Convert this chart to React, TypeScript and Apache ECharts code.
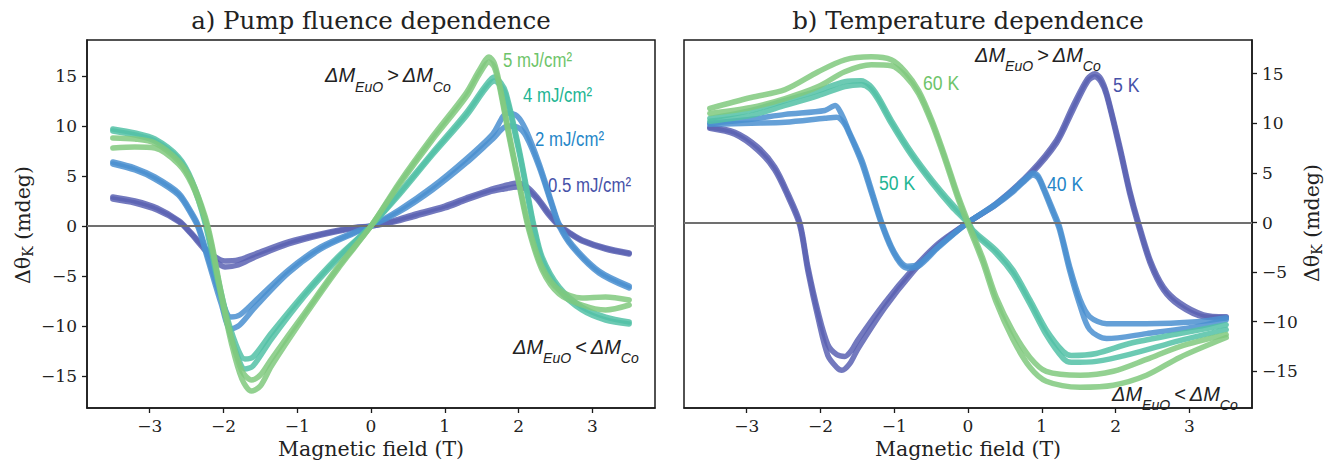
import React, { useEffect, useRef } from "react";
import * as echarts from "echarts";

type P = [number, number];

// ---------- Panel a) pump fluence dependence (two sweep branches each) ----------
const fluenceNames = ["0.5 mJ/cm²", "2 mJ/cm²", "4 mJ/cm²", "5 mJ/cm²"];

const f05A: P[] = [[-3.5,2.9],[-3.2,2.5],[-2.9,1.8],[-2.6,0.5],[-2.45,-0.6],[-2.3,-1.8],[-2.15,-2.9],[-1.98,-3.5],[-1.8,-3.4],[-1.57,-2.8],[-1.12,-1.6],[-0.68,-0.8],[-0.22,-0.15],[0,0],[0.3,0.5],[0.61,1.2],[1.0,2.0],[1.29,2.8],[1.6,3.6],[1.8,4.0],[1.98,4.3],[2.1,4.0],[2.25,2.9],[2.4,1.4],[2.55,0.1],[2.7,-0.7],[2.86,-1.4],[3.18,-2.2],[3.5,-2.7]];
const f05B: P[] = [[-3.5,2.7],[-3.2,2.3],[-2.9,1.6],[-2.6,0.4],[-2.45,-0.7],[-2.3,-2.0],[-2.15,-3.2],[-1.98,-4.1],[-1.8,-3.9],[-1.57,-3.1],[-1.12,-1.8],[-0.68,-0.9],[-0.22,-0.2],[0,0],[0.3,0.4],[0.61,1.0],[1.0,1.8],[1.29,2.6],[1.6,3.4],[1.8,3.7],[1.98,3.9],[2.1,3.7],[2.25,2.7],[2.4,1.2],[2.55,0],[2.7,-0.8],[2.86,-1.5],[3.18,-2.3],[3.5,-2.8]];

const f2A: P[] = [[-3.5,6.4],[-3.2,5.8],[-2.93,4.9],[-2.61,3.3],[-2.43,1.3],[-2.34,0],[-2.21,-3.1],[-2.03,-7.2],[-1.9,-9.1],[-1.78,-8.9],[-1.57,-7.5],[-1.12,-4.4],[-0.68,-2.1],[-0.22,-0.6],[0,0],[0.38,1.4],[0.83,3.6],[1.29,6.3],[1.65,8.7],[1.85,10.0],[1.98,9.9],[2.1,9.0],[2.28,5.9],[2.46,1.9],[2.55,0],[2.73,-2.1],[3.09,-4.7],[3.5,-6.2]];
const f2B: P[] = [[-3.5,6.2],[-3.2,5.6],[-2.93,4.7],[-2.61,3.1],[-2.43,1.1],[-2.34,-0.2],[-2.21,-3.4],[-2.03,-7.8],[-1.9,-10.3],[-1.78,-9.9],[-1.57,-8.1],[-1.12,-4.7],[-0.68,-2.3],[-0.22,-0.7],[0,0],[0.38,1.6],[0.83,3.9],[1.29,6.7],[1.65,9.2],[1.85,11.3],[1.98,11.0],[2.1,9.6],[2.28,6.2],[2.46,2.1],[2.55,0.2],[2.73,-1.9],[3.09,-4.5],[3.5,-6.0]];

const f4A: P[] = [[-3.5,9.7],[-3.2,9.3],[-2.93,8.7],[-2.61,6.9],[-2.43,4.6],[-2.25,0.6],[-2.07,-5.4],[-1.94,-9.4],[-1.8,-12.4],[-1.71,-13.3],[-1.6,-13.1],[-1.35,-10.7],[-0.9,-6.7],[-0.45,-3.1],[0,0],[0.38,3.3],[0.83,7.3],[1.29,11.3],[1.55,14.0],[1.67,14.9],[1.76,14.3],[1.83,13.3],[2.01,7.6],[2.14,2.6],[2.21,0],[2.32,-3.1],[2.55,-6.1],[2.86,-8.1],[3.18,-9.1],[3.5,-9.6]];
const f4B: P[] = [[-3.5,9.5],[-3.2,9.1],[-2.93,8.5],[-2.61,6.7],[-2.43,4.4],[-2.25,0.3],[-2.07,-5.8],[-1.94,-10.0],[-1.8,-13.2],[-1.71,-14.3],[-1.6,-14.0],[-1.35,-11.3],[-0.9,-7.0],[-0.45,-3.3],[0,0],[0.38,3.1],[0.83,7.1],[1.29,11.0],[1.55,13.7],[1.67,14.5],[1.76,14.0],[1.83,13.0],[2.01,7.3],[2.14,2.3],[2.21,-0.3],[2.32,-3.4],[2.55,-6.4],[2.86,-8.4],[3.18,-9.4],[3.5,-9.8]];

const f5A: P[] = [[-3.5,8.8],[-3.2,8.7],[-2.93,8.3],[-2.61,6.5],[-2.43,4.5],[-2.25,1.0],[-2.16,-1.7],[-2.03,-6.7],[-1.89,-11.2],[-1.75,-14.5],[-1.62,-15.4],[-1.5,-14.9],[-1.35,-13.3],[-0.9,-8.7],[-0.45,-4.1],[0,0],[0.38,4.3],[0.83,8.9],[1.29,13.3],[1.47,15.6],[1.6,16.9],[1.67,16.3],[1.74,14.3],[1.87,9.3],[2.01,4.3],[2.14,-0.1],[2.32,-4.1],[2.55,-6.4],[2.86,-7.2],[3.18,-7.1],[3.5,-7.4]];
const f5B: P[] = [[-3.5,7.8],[-3.2,7.9],[-2.93,7.8],[-2.61,6.2],[-2.43,4.2],[-2.25,0.7],[-2.16,-2.0],[-2.03,-7.0],[-1.89,-11.8],[-1.75,-15.3],[-1.62,-16.5],[-1.5,-16.0],[-1.35,-14.0],[-0.9,-9.0],[-0.45,-4.3],[0,0],[0.38,4.1],[0.83,8.6],[1.29,12.9],[1.47,15.2],[1.6,16.4],[1.67,15.9],[1.74,14.0],[1.87,9.0],[2.01,4.0],[2.14,-0.4],[2.32,-4.4],[2.55,-6.8],[2.86,-7.9],[3.18,-8.4],[3.5,-7.9]];

// ---------- Panel b) temperature dependence ----------
const tempNames = ["5 K", "40 K", "50 K", "60 K"];

const k5A: P[] = [[-3.5,9.6],[-3.16,9.1],[-2.85,7.6],[-2.62,5.6],[-2.44,2.9],[-2.28,0],[-2.17,-4.5],[-2.03,-9.1],[-1.9,-12.3],[-1.78,-13.3],[-1.67,-13.5],[-1.58,-12.9],[-1.49,-11.8],[-1.13,-8.1],[-0.76,-4.8],[-0.4,-2.1],[0,0],[0.38,1.9],[0.84,5.0],[1.2,8.3],[1.42,11.7],[1.62,14.5],[1.72,15.0],[1.8,14.5],[1.88,13.0],[2.06,7.6],[2.19,3.3],[2.31,0],[2.47,-3.8],[2.65,-6.5],[2.87,-8.1],[3.19,-9.3],[3.5,-9.5]];
const k5B: P[] = [[-3.5,9.5],[-3.16,8.9],[-2.85,7.3],[-2.62,5.3],[-2.44,2.6],[-2.28,-0.3],[-2.17,-4.9],[-2.03,-9.7],[-1.9,-13.4],[-1.78,-14.6],[-1.71,-14.9],[-1.6,-14.2],[-1.49,-12.7],[-1.13,-8.6],[-0.76,-5.1],[-0.4,-2.3],[0,0],[0.38,1.8],[0.84,4.8],[1.2,8.0],[1.42,11.3],[1.62,14.2],[1.72,14.7],[1.8,14.2],[1.88,12.8],[2.06,7.3],[2.19,3.0],[2.31,-0.3],[2.47,-4.1],[2.65,-6.8],[2.87,-8.4],[3.19,-9.5],[3.5,-9.6]];

const k40A: P[] = [[-3.5,10.0],[-2.94,10.4],[-2.48,10.9],[-1.94,11.3],[-1.8,11.8],[-1.72,11.0],[-1.62,9.3],[-1.44,6.3],[-1.31,3.3],[-1.17,0],[-1.04,-2.4],[-0.92,-3.9],[-0.82,-4.4],[-0.67,-4.2],[-0.4,-2.4],[0,0],[0.38,1.9],[0.61,3.3],[0.8,4.6],[0.88,5.0],[0.95,4.7],[1.02,3.6],[1.15,1.3],[1.24,-0.4],[1.38,-4.5],[1.52,-7.8],[1.65,-9.5],[1.88,-10.2],[2.42,-10.2],[3.1,-10.0],[3.5,-9.6]];
const k40B: P[] = [[-3.5,9.9],[-2.94,10.0],[-2.48,10.1],[-1.94,10.5],[-1.78,10.6],[-1.68,10.0],[-1.6,8.8],[-1.44,6.0],[-1.31,3.0],[-1.17,-0.2],[-1.04,-2.6],[-0.92,-4.1],[-0.82,-4.6],[-0.67,-4.4],[-0.4,-2.5],[0,0],[0.38,1.8],[0.61,3.1],[0.8,4.4],[0.88,4.8],[0.95,4.5],[1.02,3.4],[1.15,1.0],[1.24,-0.7],[1.38,-4.9],[1.52,-8.4],[1.65,-10.8],[1.88,-11.7],[2.42,-11.2],[3.1,-10.5],[3.5,-9.8]];

const k50A: P[] = [[-3.5,10.5],[-2.94,11.3],[-2.48,12.3],[-2.03,13.3],[-1.67,14.2],[-1.45,14.3],[-1.33,13.8],[-1.22,12.7],[-1.04,10.3],[-0.76,7.0],[-0.49,4.3],[-0.22,1.9],[0,0.1],[0.07,-0.8],[0.38,-2.8],[0.61,-4.8],[0.84,-7.8],[1.06,-10.8],[1.29,-13.0],[1.4,-13.4],[1.74,-13.2],[2.19,-12.2],[2.87,-11.2],[3.5,-10.3]];
const k50B: P[] = [[-3.5,10.2],[-2.94,10.8],[-2.48,11.8],[-2.03,12.8],[-1.67,13.7],[-1.45,13.9],[-1.33,13.5],[-1.22,12.4],[-1.04,10.0],[-0.76,6.7],[-0.49,4.0],[-0.22,1.6],[0,-0.1],[0.07,-1.0],[0.38,-3.1],[0.61,-5.2],[0.84,-8.2],[1.06,-11.3],[1.29,-13.7],[1.4,-14.1],[1.74,-14.0],[2.19,-13.3],[2.87,-11.9],[3.5,-10.8]];

const k60A: P[] = [[-3.5,11.5],[-2.94,12.6],[-2.48,13.4],[-2.03,15.2],[-1.67,16.4],[-1.31,16.7],[-1.04,16.4],[-0.85,15.2],[-0.67,13.3],[-0.49,10.3],[-0.31,6.6],[-0.13,2.6],[0.03,-0.5],[0.2,-3.6],[0.38,-7.5],[0.61,-11.0],[0.84,-13.6],[1.06,-15.0],[1.52,-15.4],[1.97,-15.0],[2.42,-13.8],[2.87,-12.5],[3.5,-11.3]];
const k60B: P[] = [[-3.5,11.0],[-2.94,11.6],[-2.48,12.5],[-2.03,13.7],[-1.67,15.2],[-1.31,15.9],[-1.04,15.8],[-0.85,14.8],[-0.67,13.0],[-0.49,10.0],[-0.31,6.3],[-0.13,2.3],[0.03,-0.8],[0.2,-4.0],[0.38,-8.0],[0.61,-11.8],[0.84,-14.6],[1.06,-16.0],[1.52,-16.6],[1.97,-16.4],[2.42,-15.4],[2.87,-13.6],[3.5,-11.6]];

const xTicks = [-3, -2, -1, 0, 1, 2, 3];
const yTicks = [-15, -10, -5, 0, 5, 10, 15];

const lineColors = ["#5a62b3", "#4a8fd0", "#52c1a6", "#80c97e"];
const labelColors = ["#4651a8", "#2586c8", "#22b593", "#6ec46a"];

const SERIF = '"DejaVu Serif", serif';
const SANS = '"Liberation Sans", Arial, sans-serif';

let measureCtx: CanvasRenderingContext2D | null = null;
function textWidth(text: string, font: string): number {
  if (!measureCtx) measureCtx = document.createElement("canvas").getContext("2d");
  if (!measureCtx) return text.length * 10;
  measureCtx.font = font;
  return measureCtx.measureText(text).width;
}

function subText(
  x: number,
  y: number,
  parts: Array<[string, boolean]>,
  color: string,
  mainFont: string,
  subFont: string,
  subDy: number,
  align: "left" | "center",
  rotation = 0
) {
  const widths = parts.map(([t, s]) => textWidth(t, s ? subFont : mainFont));
  const total = widths.reduce((a, b) => a + b, 0);
  let cx = align === "center" ? -total / 2 : 0;
  const children = parts.map(([t, s], i) => {
    const el = {
      type: "text",
      x: cx,
      y: s ? subDy : 0,
      style: {
        text: t,
        font: s ? subFont : mainFont,
        fill: color,
        align: "left",
        verticalAlign: "middle",
        textAlign: "left",
        textVerticalAlign: "middle",
      },
    };
    cx += widths[i];
    return el;
  });
  return { type: "group", x, y, rotation, silent: true, children };
}

function plainText(x: number, y: number, text: string, color: string, font: string, align: string, scaleX = 1) {
  return {
    type: "text",
    x,
    y,
    scaleX,
    silent: true,
    style: { text, font, fill: color, align, verticalAlign: "middle", textAlign: align, textVerticalAlign: "middle" },
  };
}

const fmt = (v: number) => String(v).replace("-", "\u2212");

function xAxis(gridIndex: number) {
  return {
    type: "value",
    gridIndex,
    min: -3.85,
    max: 3.85,
    name: "Magnetic field (T)",
    nameLocation: "middle",
    nameGap: 28,
    nameTextStyle: { fontFamily: SERIF, fontSize: 20.5, color: "#222" },
    axisLine: { show: true, onZero: false, lineStyle: { color: "#1a1a1a", width: 1.5 } },
    axisTick: { show: true, inside: false, length: 5, customValues: xTicks, lineStyle: { color: "#1a1a1a", width: 1.3 } },
    axisLabel: { customValues: xTicks, formatter: fmt, fontFamily: SERIF, fontSize: 17, color: "#222", margin: 9 },
    splitLine: { show: false },
  };
}

function yAxis(gridIndex: number, position: string, min: number, max: number) {
  return {
    type: "value",
    gridIndex,
    position,
    min,
    max,
    axisLine: { show: true, onZero: false, lineStyle: { color: "#1a1a1a", width: 1.5 } },
    axisTick: { show: true, inside: false, length: 5, customValues: yTicks, lineStyle: { color: "#1a1a1a", width: 1.3 } },
    axisLabel: { customValues: yTicks, formatter: fmt, fontFamily: SERIF, fontSize: 17, color: "#222", margin: 10 },
    splitLine: { show: false },
  };
}

function branch(name: string, data: P[], color: string, axis: number, z: number) {
  return {
    type: "line",
    name,
    xAxisIndex: axis,
    yAxisIndex: axis,
    data,
    showSymbol: false,
    symbol: "none",
    smooth: 0.3,
    silent: true,
    z,
    lineStyle: { color, width: 5.5, opacity: 0.85, cap: "round", join: "round" },
    itemStyle: { color },
  };
}

function zeroLine(axis: number) {
  return {
    type: "line",
    xAxisIndex: axis,
    yAxisIndex: axis,
    data: [],
    silent: true,
    z: 20,
    markLine: {
      silent: true,
      symbol: "none",
      label: { show: false },
      lineStyle: { color: "#707070", width: 1.8, type: "solid" },
      data: [{ yAxis: 0 }],
    },
  };
}

export default function App() {
  const ref = useRef<HTMLDivElement>(null);

  useEffect(() => {
    if (!ref.current) return;
    const chart = echarts.init(ref.current, undefined, { renderer: "svg" });

    const fluence = [[f05A, f05B], [f2A, f2B], [f4A, f4B], [f5A, f5B]];
    const temps = [[k5A, k5B], [k40A, k40B], [k50A, k50B], [k60A, k60B]];

    const series: any[] = [];
    fluence.forEach((pair, i) => {
      pair.forEach((d) => series.push(branch(fluenceNames[i], d, lineColors[i], 0, 2 + i)));
    });
    temps.forEach((pair, i) => {
      pair.forEach((d) => series.push(branch(tempNames[i], d, lineColors[i], 1, 2 + i)));
    });
    series.push(zeroLine(0));
    series.push(zeroLine(1));

    const mainF = `italic 20px ${SANS}`;
    const subF = `italic 14px ${SANS}`;
    const lblF = `21px ${SANS}`;
    const gt = "ΔM";
    const up: Array<[string, boolean]> = [[gt, false], ["EuO", true], ["\u2009>\u2009ΔM", false], ["Co", true]];
    const down: Array<[string, boolean]> = [[gt, false], ["EuO", true], ["\u2009<\u2009ΔM", false], ["Co", true]];
    const yName: Array<[string, boolean]> = [["Δθ", false], ["K", true], [" (mdeg)", false]];

    const graphic: any[] = [
      plainText(371, 20, "a) Pump fluence dependence", "#222", `24.5px ${SERIF}`, "center"),
      plainText(968, 20, "b) Temperature dependence", "#222", `24.5px ${SERIF}`, "center"),
      subText(23, 225, yName, "#222", `20.5px ${SERIF}`, `14px ${SERIF}`, 5, "center", Math.PI / 2),
      subText(1312, 223, yName, "#222", `20.5px ${SERIF}`, `14px ${SERIF}`, 5, "center", Math.PI / 2),
      subText(325, 75, up, "#222", mainF, subF, 11.5, "left"),
      subText(513, 347, down, "#222", mainF, subF, 11, "left"),
      subText(975, 55, up, "#222", mainF, subF, 11, "left"),
      subText(1112, 394, down, "#222", mainF, subF, 11, "left"),
      plainText(503, 60, fluenceNames[3], labelColors[3], lblF, "left", 0.8),
      plainText(523, 95, fluenceNames[2], labelColors[2], lblF, "left", 0.8),
      plainText(535, 139, fluenceNames[1], labelColors[1], lblF, "left", 0.8),
      plainText(548, 185, fluenceNames[0], labelColors[0], lblF, "left", 0.8),
      plainText(923, 82, tempNames[3], labelColors[3], lblF, "left", 0.84),
      plainText(879, 182, tempNames[2], labelColors[2], lblF, "left", 0.84),
      plainText(1047, 183, tempNames[1], labelColors[1], lblF, "left", 0.84),
      plainText(1113, 84, tempNames[0], labelColors[0], lblF, "left", 0.84),
    ];

    chart.setOption({
      animation: false,
      backgroundColor: "#ffffff",
      grid: [
        { left: 87, top: 40, width: 568, height: 368, show: true, borderColor: "#1a1a1a", borderWidth: 1.5, backgroundColor: "transparent", outerBoundsMode: "none" },
        { left: 684, top: 40, width: 568, height: 368, show: true, borderColor: "#1a1a1a", borderWidth: 1.5, backgroundColor: "transparent", outerBoundsMode: "none" },
      ],
      xAxis: [xAxis(0), xAxis(1)],
      yAxis: [yAxis(0, "left", -18.2, 18.6), yAxis(1, "right", -18.7, 18.4)],
      series,
      graphic,
    });

    return () => chart.dispose();
  }, []);

  return (
    <div
      ref={ref}
      style={{ position: "fixed", left: 0, top: 0, width: 1326, height: 460, background: "#fff" }}
    />
  );
}
